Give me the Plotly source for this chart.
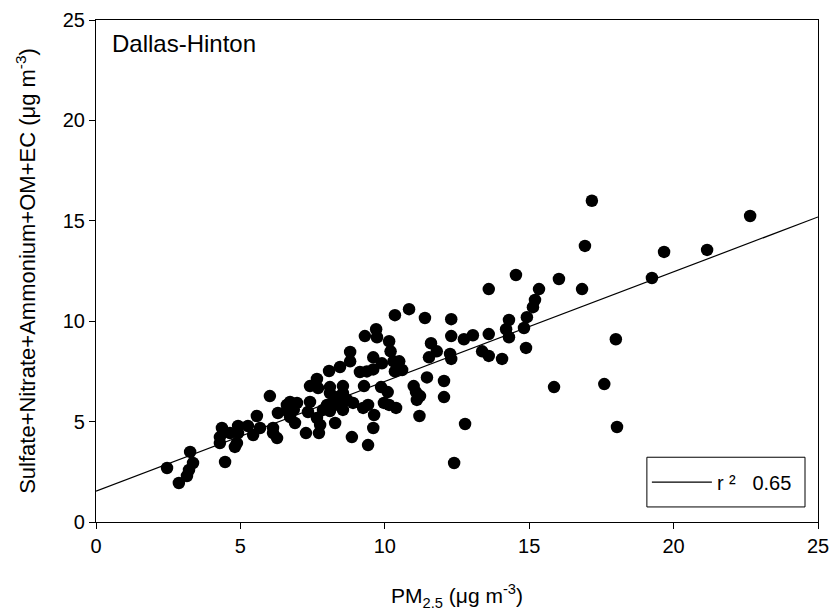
import plotly.graph_objects as go

# PM2.5 (x) and Sulfate+Nitrate+Ammonium+OM+EC (y)
pm25 = [2.46, 2.87, 3.15, 3.22, 3.26, 3.36, 4.29, 4.29, 4.36, 4.47, 4.64, 4.81, 4.88, 4.92, 4.92,
        5.26, 5.44, 5.57, 5.68, 6.13, 6.13, 6.27, 6.30, 6.02, 6.61, 6.60, 6.85, 6.72, 6.96, 6.72,
        6.89, 7.27, 7.34, 7.41, 7.41, 7.65, 7.65, 7.69, 7.72, 7.76, 7.86, 8.00, 8.07, 8.10, 8.10,
        8.10, 8.20, 8.28, 8.28, 8.38, 8.45, 8.55, 8.55, 8.55, 8.45, 8.70, 8.80, 8.80, 8.86, 8.90,
        9.14, 9.25, 9.28, 9.31, 9.38, 9.42, 9.42, 9.60, 9.60, 9.60, 9.63, 9.70, 9.73, 9.87, 9.90,
        9.97, 10.10, 10.15, 10.15, 10.20, 10.30, 10.35, 10.35, 10.39, 10.50, 10.60, 10.84, 11.00,
        11.08, 11.22, 11.11, 11.20, 11.39, 11.46, 11.53, 11.60, 11.80, 12.05, 12.05, 12.26, 12.30,
        12.30, 12.30, 12.40, 12.74, 12.78, 13.05, 13.37, 13.60, 13.60, 13.60, 14.06, 14.20, 14.30,
        14.30, 14.54, 14.82, 14.89, 14.92, 15.13, 15.20, 15.34, 15.86, 16.03, 16.83, 16.93, 17.17,
        17.60, 18.00, 18.04, 19.25, 19.67, 21.16, 22.65]
species = [2.69, 1.94, 2.29, 2.59, 3.49, 2.94, 3.93, 4.23, 4.68, 2.99, 4.43, 3.74, 3.93, 4.78, 4.43,
           4.78, 4.33, 5.28, 4.68, 4.68, 4.43, 4.18, 5.43, 6.27, 5.83, 5.55, 5.60, 5.98, 5.93, 5.23,
           4.93, 4.43, 5.48, 5.98, 6.77, 7.12, 5.18, 6.67, 4.43, 4.83, 5.58, 5.83, 7.52, 6.72, 6.42,
           5.53, 5.93, 6.22, 4.93, 5.83, 7.72, 6.77, 6.42, 5.58, 5.93, 6.08, 8.47, 8.00, 4.23, 5.93,
           7.47, 5.68, 6.77, 9.26, 7.50, 5.83, 3.83, 8.20, 7.60, 4.68, 5.33, 9.60, 9.20, 6.72, 7.90,
           5.93, 6.47, 9.00, 5.83, 8.50, 8.00, 10.30, 7.50, 5.68, 8.00, 7.57, 10.60, 6.77,
           6.47, 6.27, 6.08, 5.28, 10.16, 7.20, 8.20, 8.90, 8.50, 7.02, 6.22, 8.37, 8.12,
           10.10, 9.26, 2.94, 9.10, 4.88, 9.30, 8.50, 11.60, 9.36, 8.27, 8.12, 9.60, 10.06,
           9.20, 12.30, 9.66, 8.67, 10.20, 10.70, 11.06, 11.60, 6.72, 12.10, 11.60, 13.75, 16.00,
           6.87, 9.10, 4.73, 12.15, 13.45, 13.55, 15.24]

# Regression line parameters
reg_intercept = 1.54
reg_slope = 0.546
r_squared = 0.65

x_range = [0, 25]
y_range = [0, 25]
x_ticks = [0, 5, 10, 15, 20, 25]
y_ticks = [0, 5, 10, 15, 20, 25]

FONT = "Arial, Liberation Sans, sans-serif"

fig = go.Figure()
fig.add_trace(go.Scatter(
    x=pm25, y=species, mode="markers",
    marker=dict(color="black", size=12.5, line=dict(width=0)),
    showlegend=False, hoverinfo="x+y"))

line_x = x_range
line_y = [reg_intercept + reg_slope * v for v in line_x]
fig.add_trace(go.Scatter(
    x=line_x, y=line_y, mode="lines",
    line=dict(color="black", width=1.2),
    name=f"r \u00b2   {r_squared:.2f}  ", showlegend=True))

# legend frame (paper coordinates)
legend_box = dict(x0=0.763, x1=0.982, y0=0.030, y1=0.129)

fig.update_layout(
    width=831, height=614,
    margin=dict(l=96, r=13, t=20, b=92, autoexpand=False),
    paper_bgcolor="white", plot_bgcolor="white",
    font=dict(family=FONT, size=20, color="black"),
    legend=dict(x=legend_box["x0"], y=(legend_box["y0"] + legend_box["y1"]) / 2,
                xanchor="left", yanchor="middle",
                borderwidth=0, bgcolor="rgba(0,0,0,0)",
                itemwidth=60, font=dict(size=20, family=FONT)),
    shapes=[dict(type="rect", xref="paper", yref="paper", **legend_box,
                 line=dict(color="black", width=1), fillcolor="rgba(0,0,0,0)", layer="above")],
    annotations=[dict(text="Dallas-Hinton", x=0.019, y=0.954, xref="paper", yref="paper",
                      xanchor="left", yanchor="middle", showarrow=False,
                      font=dict(size=24, family=FONT))],
)
fig.update_xaxes(
    range=x_range, tickvals=x_ticks, showgrid=False, zeroline=False, automargin=False,
    showline=True, linecolor="black", linewidth=1.2, mirror=True,
    ticks="outside", ticklen=6, tickwidth=1.2, tickcolor="black",
    tickfont=dict(size=20),
    title=dict(text="PM<sub>2.5</sub> (\u03bcg m<sup>-3</sup>)", font=dict(size=21), standoff=32))
fig.update_yaxes(
    range=y_range, tickvals=y_ticks, showgrid=False, zeroline=False, automargin=False,
    showline=True, linecolor="black", linewidth=1.2, mirror=True,
    ticks="outside", ticklen=6, tickwidth=1.2, tickcolor="black",
    tickfont=dict(size=20),
    title=dict(text="Sulfate+Nitrate+Ammonium+OM+EC (\u03bcg m<sup>-3</sup>)", font=dict(size=22), standoff=20))

fig.write_html("out.html")
